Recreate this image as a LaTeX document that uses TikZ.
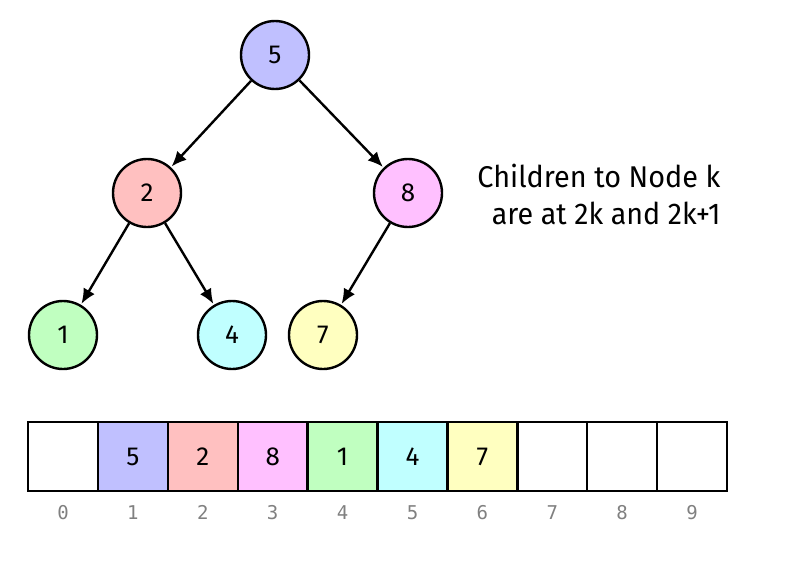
\documentclass[tikz,border=0pt]{standalone}
\usepackage{fontspec}
\setmainfont{Fira Sans}
\newfontfamily\idxfont{DejaVu Sans Mono}
\usetikzlibrary{arrows.meta}
\definecolor{cblue}{HTML}{C0C0FF}
\definecolor{cred}{HTML}{FFC0C0}
\definecolor{cmag}{HTML}{FFC0FF}
\definecolor{cgreen}{HTML}{C0FFC0}
\definecolor{ccyan}{HTML}{C0FFFF}
\definecolor{cyel}{HTML}{FFFFC0}
\definecolor{idxgray}{HTML}{808080}
\tikzset{
  tnode/.style={circle, draw=black, line width=2.4pt, minimum size=68pt, inner sep=0pt, font=\fontsize{26}{30}\selectfont},
  edge/.style={line width=2.4pt, -{Latex[length=15pt,width=13pt]}, shorten >=1pt},
  cell/.style={draw=black, line width=2.4pt, minimum width=70pt, minimum height=69pt, inner sep=0pt, font=\fontsize{26}{30}\selectfont},
  idx/.style={font=\idxfont\fontsize{19}{22}\selectfont, text=idxgray, text height=14pt, text depth=0pt, inner sep=0pt},
}
\begin{document}
\begin{tikzpicture}[x=1pt,y=-1pt]
\useasboundingbox (0,0) rectangle (793,562);
\node[tnode, fill=cblue] (n5) at (275,55) {5};
\node[tnode, fill=cred] (n2) at (147,193) {2};
\node[tnode, fill=cmag] (n8) at (408,193) {8};
\node[tnode, fill=cgreen] (n1) at (63,335) {1};
\node[tnode, fill=ccyan] (n4) at (232,335) {4};
\node[tnode, fill=cyel] (n7) at (323,335) {7};
\draw[edge] (n5) -- (n2);
\draw[edge] (n5) -- (n8);
\draw[edge] (n2) -- (n1);
\draw[edge] (n2) -- (n4);
\draw[edge] (n8) -- (n7);
\node[anchor=east, align=right, font=\fontsize{30}{37}\selectfont] (txt) at (724,194) {\scalebox{0.96}[1]{Children to Node k}\\\scalebox{0.955}[1]{are at 2k and 2k+1}};
\foreach \i/\v/\c in {0//white,1/5/cblue,2/2/cred,3/8/cmag,4/1/cgreen,5/4/ccyan,6/7/cyel,7//white,8//white,9//white}{
  \node[cell, fill=\c] (c\i) at ({63+69.9*\i},456.5) {\v};
  \node[idx] (i\i) at ({63+69.9*\i},512) {\i};
}
\end{tikzpicture}
\end{document}
